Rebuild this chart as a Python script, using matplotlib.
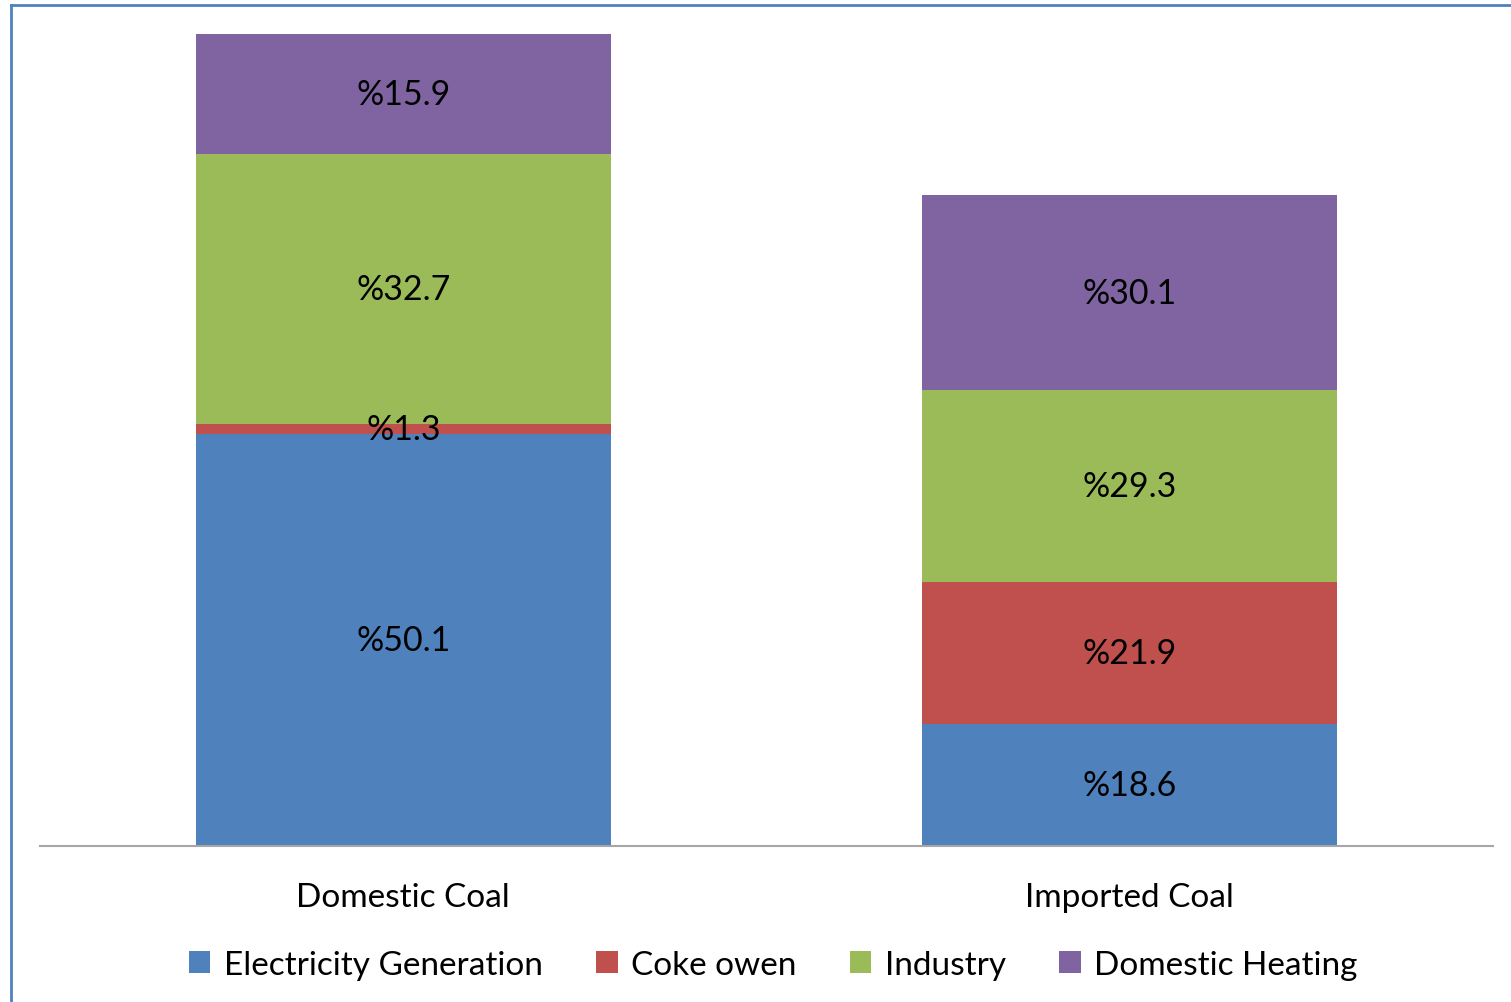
import matplotlib
matplotlib.use("Agg")
import matplotlib.pyplot as plt
from matplotlib.lines import Line2D
import numpy as np

plt.rcParams['font.family'] = ['Lato', 'DejaVu Sans']

# coal consumption by sector (relative amounts)
categories = ['Domestic Coal', 'Imported Coal']
sectors = ['Electricity Generation', 'Coke owen', 'Industry', 'Domestic Heating']
values = {
    'Electricity Generation': [41.2, 12.2],
    'Coke owen': [1.0, 14.2],
    'Industry': [27.0, 19.2],
    'Domestic Heating': [12.0, 19.5],
}
labels = {
    'Electricity Generation': ['%50.1', '%18.6'],
    'Coke owen': ['%1.3', '%21.9'],
    'Industry': ['%32.7', '%29.3'],
    'Domestic Heating': ['%15.9', '%30.1'],
}
colors = ['#4F81BD', '#C0504D', '#9BBB59', '#8064A2']

W, H = 1511, 1003
fig = plt.figure(figsize=(W / 100, H / 100), dpi=100)
ax = fig.add_axes([40 / W, (H - 847) / H, (1493 - 40) / W, (847 - 20) / H])

x = np.arange(len(categories))
bottom = np.zeros(len(categories))
for name, c in zip(sectors, colors):
    v = np.array(values[name])
    ax.bar(x, v, 0.571, bottom=bottom, color=c, label=name)
    for xi, b, vi, lab in zip(x, bottom, v, labels[name]):
        ax.text(xi, b + vi / 2, lab, ha='center', va='center', fontsize=24.5, color='black')
    bottom += v

ax.set_xlim(-0.5, 1.5)
ax.set_ylim(0, 82.7)
ax.set_yticks([])
ax.set_xticks(x)
ax.set_xticklabels(categories, fontsize=24)
ax.tick_params(axis='x', length=0, pad=26)
for s in ['top', 'right', 'left']:
    ax.spines[s].set_visible(False)
ax.spines['bottom'].set_color('#A6A6A6')
ax.spines['bottom'].set_linewidth(1.5)

fig.legend(loc='center', bbox_to_anchor=(773 / W, 1 - 966 / H), ncol=4, frameon=False,
           fontsize=24, handlelength=0.65, handleheight=0.65, handletextpad=0.4, columnspacing=1.6)

# outer chart border (left and top visible)
fig.add_artist(Line2D([11 / W, 11 / W], [0, 1 - 6 / H], transform=fig.transFigure, color='#4F81BD', lw=2))
fig.add_artist(Line2D([11 / W, 1], [1 - 6 / H, 1 - 6 / H], transform=fig.transFigure, color='#4F81BD', lw=2))

fig.savefig('out.png', dpi=100)
